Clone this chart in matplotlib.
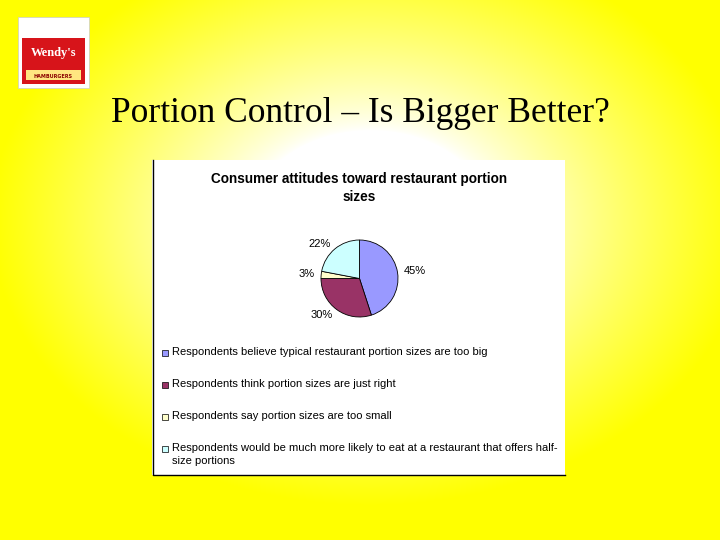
import numpy as np
import matplotlib
matplotlib.use("Agg")
import matplotlib.pyplot as plt
from matplotlib.patches import Rectangle

categories = ["Respondents believe typical restaurant portion sizes are too big",
              "Respondents think portion sizes are just right",
              "Respondents say portion sizes are too small",
              "Respondents would be much more likely to eat at a restaurant that offers half-\nsize portions"]
values = [45, 30, 3, 22]
colors = ["#9999FF", "#993366", "#FFFFCC", "#CCFFFF"]

W, H = 720, 540
fig = plt.figure(figsize=(7.2, 5.4), dpi=100)

# background radial gradient
bg = fig.add_axes([0, 0, 1, 1])
yy, xx = np.mgrid[0:H, 0:W]
d = np.sqrt(((xx - 370) / 400.0) ** 2 + ((yy - 220) / 300.0) ** 2)
t = np.clip((d - 0.3) / 0.65, 0, 1) ** 0.8
img = np.zeros((H, W, 3))
img[..., 0] = 1.0
img[..., 1] = 1.0
img[..., 2] = 1.0 - t
bg.imshow(img, extent=[0, W, H, 0], aspect="auto")
bg.set_xlim(0, W); bg.set_ylim(H, 0); bg.axis("off")

# logo
bg.add_patch(Rectangle((18, 17), 71, 71, facecolor="white", edgecolor="#cccccc", lw=0.5))
bg.add_patch(Rectangle((22, 38), 63, 46, facecolor="#D7141A", edgecolor="none"))
bg.add_patch(Rectangle((26, 70), 55, 10, facecolor="#FFE680", edgecolor="none"))
bg.text(53.5, 53, "Wendy's", color="white", fontsize=9, fontweight="bold",
        ha="center", va="center", family="Liberation Serif")
bg.text(53.5, 76, "HAMBURGERS", color="#8B0000", fontsize=3.5, fontweight="bold",
        ha="center", va="center")

# title
bg.text(360, 113, "Portion Control \u2013 Is Bigger Better?", fontsize=25.5,
        family="Liberation Serif", ha="center", va="center")

# chart box
bg.add_patch(Rectangle((152, 160), 413, 315, facecolor="white", edgecolor="none"))
bg.plot([153, 153, 565], [160, 475, 475], color="black", lw=1)
bg.text(359, 188, "Consumer attitudes toward restaurant portion\nsizes", fontsize=9.8,
        fontweight="bold", ha="center", va="center", linespacing=1.3,
        family="Liberation Sans")

# legend
ys = [352, 384, 416, 448]
for y, c, lab in zip(ys, colors, categories):
    bg.add_patch(Rectangle((162, y - 2), 6, 6, facecolor=c, edgecolor="black", lw=0.5))
    bg.text(172, y - 5, lab, fontsize=8, ha="left", va="top", family="Liberation Sans",
            linespacing=1.35)

# pie
pa = fig.add_axes([321 / W, 1 - 317 / H, 77 / W, 77 / H])
labels = [f"{v}%" for v in values]
pa.pie(values, colors=colors, startangle=90, counterclock=False, labels=labels,
       labeldistance=1.17, wedgeprops=dict(edgecolor="black", linewidth=0.6),
       textprops=dict(fontsize=8, family="Liberation Sans"))
pa.set_xlim(-1, 1); pa.set_ylim(-1, 1)
pa.set_aspect("equal")

fig.savefig("out.png", dpi=100)
